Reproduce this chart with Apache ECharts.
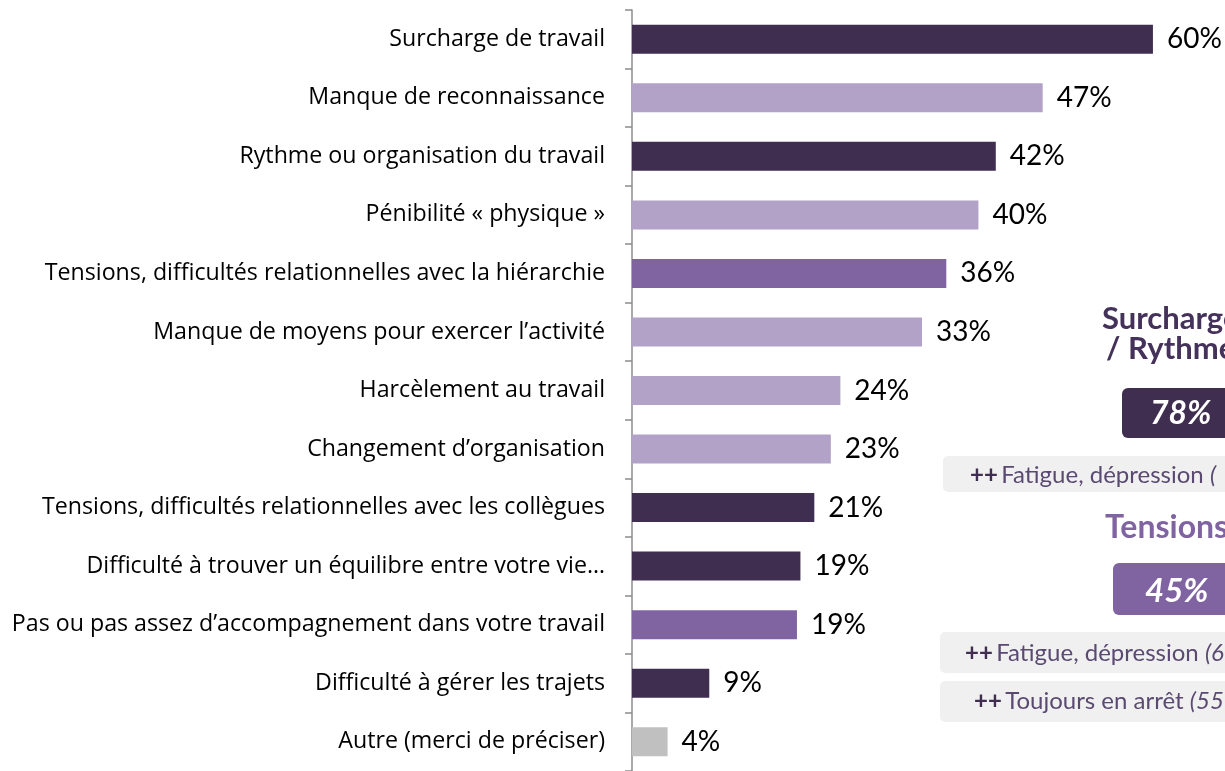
<!DOCTYPE html>
<html>
<head>
<meta charset="utf-8">
<script src="https://cdn.jsdelivr.net/npm/echarts@6/dist/echarts.min.js"></script>
<style>
html,body{margin:0;padding:0;background:#fff;}
#chart{width:1225px;height:771px;}
</style>
</head>
<body>
<div id="chart"></div>
<script>
const categories = [
  "Surcharge de travail",
  "Manque de reconnaissance",
  "Rythme ou organisation du travail",
  "Pénibilité « physique »",
  "Tensions, difficultés relationnelles avec la hiérarchie",
  "Manque de moyens pour exercer l’activité",
  "Harcèlement au travail",
  "Changement d’organisation",
  "Tensions, difficultés relationnelles avec les collègues",
  "Difficulté à trouver un équilibre entre votre vie…",
  "Pas ou pas assez d’accompagnement dans votre travail",
  "Difficulté à gérer les trajets",
  "Autre (merci de préciser)"
];
const values = [60, 47.3, 41.9, 39.9, 36.2, 33.4, 24.0, 22.9, 21.0, 19.4, 19.0, 8.9, 4.1];
const groups = ["surcharge", "autres", "surcharge", "autres", "tensions", "autres", "autres", "autres", "surcharge", "surcharge", "tensions", "surcharge", "autre"];

const palette = { surcharge: "#402e50", autres: "#b2a2c7", tensions: "#8064a2", autre: "#c0c0c0" };
const FONT = "Lato, 'Open Sans', sans-serif";
const LABEL_FONT = "'Open Sans', 'Noto Sans', sans-serif";

const chart = echarts.init(document.getElementById('chart'), null, { renderer: 'canvas' });

const textColor = "#5a4a72";
function noteText(main, tail) {
  return {
    type: 'text',
    style: {
      text: '{b|++} {n|' + main + '}{i|' + tail + '}',
      rich: {
        b: { fontFamily: FONT, fontSize: 24, fontWeight: 'bold', fill: '#3f2e50' },
        n: { fontFamily: FONT, fontSize: 24, fill: textColor },
        i: { fontFamily: FONT, fontSize: 24, fontStyle: 'italic', fill: textColor }
      }
    }
  };
}

chart.setOption({
  animation: false,
  backgroundColor: '#ffffff',
  grid: { left: 632, top: 10, width: 593, height: 766, containLabel: false },
  xAxis: { type: 'value', min: 0, max: 68.3, show: false },
  yAxis: {
    type: 'category',
    data: categories,
    inverse: true,
    axisLine: { show: true, lineStyle: { color: '#8c8c8c', width: 1.5 } },
    axisTick: { show: true, length: 7, lineStyle: { color: '#8c8c8c', width: 1.5 } },
    axisLabel: { margin: 27, fontSize: 23.2, color: '#000', fontFamily: LABEL_FONT }
  },
  series: [{
    type: 'bar',
    barWidth: 29,
    data: values.map((v, i) => ({ value: v, itemStyle: { color: palette[groups[i]] } })),
    label: {
      show: true,
      position: 'right',
      distance: 14,
      fontSize: 28,
      fontFamily: FONT,
      color: '#000',
      formatter: p => Math.round(p.value) + '%'
    }
  }],
  graphic: [
    { type: 'text', left: 1102, top: 303, style: { text: 'Surcharge', fontFamily: FONT, fontSize: 31, fontWeight: 'bold', fill: '#44325a' } },
    { type: 'text', left: 1106, top: 333, style: { text: '/ Rythme', fontFamily: FONT, fontSize: 31, fontWeight: 'bold', fill: '#44325a' } },
    { type: 'rect', shape: { x: 1122, y: 388, width: 130, height: 50, r: 6 }, style: { fill: '#402e50' } },
    { type: 'text', left: 1150, top: 398, style: { text: '78%', fontFamily: FONT, fontSize: 32, fontWeight: 'bold', fontStyle: 'italic', fill: '#fff' } },
    { type: 'rect', shape: { x: 943, y: 456, width: 300, height: 36, r: 5 }, style: { fill: '#f0f0f0' } },
    Object.assign(noteText('Fatigue, dépression ', '('), { left: 970, top: 463 }),
    { type: 'text', left: 1105, top: 512, style: { text: 'Tensions', fontFamily: FONT, fontSize: 32, fontWeight: 'bold', fill: '#8064a2' } },
    { type: 'rect', shape: { x: 1113, y: 563, width: 130, height: 52, r: 6 }, style: { fill: '#8064a2' } },
    { type: 'text', left: 1145, top: 575, style: { text: '45%', fontFamily: FONT, fontSize: 33, fontWeight: 'bold', fontStyle: 'italic', fill: '#fff' } },
    { type: 'rect', shape: { x: 940, y: 632, width: 300, height: 41, r: 5 }, style: { fill: '#f0f0f0' } },
    Object.assign(noteText('Fatigue, dépression ', '(6'), { left: 965, top: 641 }),
    { type: 'rect', shape: { x: 940, y: 681, width: 300, height: 41, r: 5 }, style: { fill: '#f0f0f0' } },
    Object.assign(noteText('Toujours en arrêt ', '(55'), { left: 974, top: 689 })
  ]
});
</script>
</body>
</html>
